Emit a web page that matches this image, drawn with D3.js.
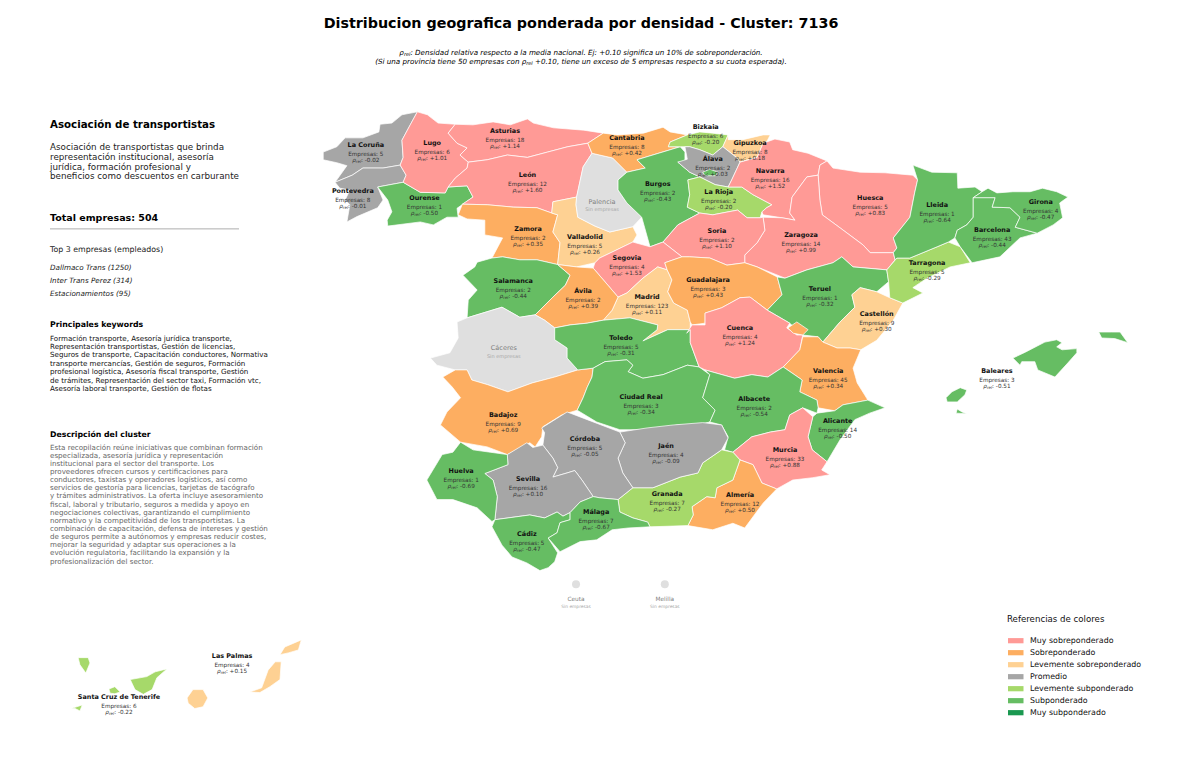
<!DOCTYPE html>
<html>
<head>
<meta charset="utf-8">
<script src="https://cdn.jsdelivr.net/npm/d3@7"></script>
<style>
 body { margin: 0; background: #fff; }
 text { font-family: "DejaVu Sans", sans-serif; }
</style>
</head>
<body>
<div id="map"></div>
<script>
var provinces = ['La Coruña','Lugo','Asturias','Cantabria','Bizkaia','Gipuzkoa','Álava','Navarra','La Rioja','Burgos','León','Pontevedra','Ourense','Zamora','Valladolid','Palencia','Soria','Huesca','Lleida','Girona','Barcelona','Tarragona','Zaragoza','Segovia','Salamanca','Ávila','Madrid','Guadalajara','Teruel','Castellón','Cáceres','Toledo','Cuenca','Valencia','Baleares','Badajoz','Ciudad Real','Albacete','Alicante','Córdoba','Jaén','Murcia','Huelva','Sevilla','Granada','Almería','Málaga','Cádiz','Las Palmas','Santa Cruz de Tenerife','Ceuta','Melilla'];
var empresas = [5,6,18,8,6,8,2,16,2,2,12,8,1,2,5,0,2,5,1,4,43,5,14,4,2,2,123,3,1,9,0,5,4,45,3,9,3,2,14,5,4,33,1,16,7,12,7,5,4,6,0,0];
var rho = [-0.02,1.01,1.14,0.42,-0.20,0.18,0.03,1.52,-0.20,-0.43,1.60,-0.01,-0.50,0.35,0.26,null,1.10,0.83,-0.64,-0.47,-0.44,-0.29,0.99,1.53,-0.44,0.39,0.11,0.43,-0.32,0.30,null,-0.31,1.24,0.34,-0.51,0.69,-0.34,-0.54,-0.50,-0.05,-0.09,0.88,-0.69,0.10,-0.27,0.50,-0.67,-0.47,0.15,-0.22,null,null];

// where each label sits, lon/lat
var labelLonLat = [[-8.56,43.21],[-7.44,43.24],[-6.21,43.45],[-4.15,43.33],[-2.82,43.51],[-2.07,43.24],[-2.70,42.97],[-1.73,42.77],[-2.60,42.42],[-3.63,42.55],[-5.83,42.70],[-8.78,42.43],[-7.57,42.32],[-5.82,41.79],[-4.86,41.66],[-4.57,42.25],[-2.63,41.76],[-0.04,42.32],[1.09,42.20],[2.84,42.25],[2.02,41.78],[0.92,41.22],[-1.21,41.69],[-4.15,41.30],[-6.07,40.91],[-4.89,40.74],[-3.81,40.64],[-2.78,40.93],[-0.89,40.78],[0.07,40.36],[-6.23,39.78],[-4.25,39.95],[-2.24,40.12],[-0.75,39.39],[2.10,39.39],[-6.24,38.65],[-3.91,38.96],[-2.0,38.92],[-0.59,38.55],[-4.86,38.25],[-3.49,38.13],[-1.48,38.06],[-6.95,37.70],[-5.82,37.57],[-3.47,37.32],[-2.24,37.30],[-4.67,37.01],[-5.84,36.64],[-10.82,34.58],[-12.73,33.89],[-5.01,35.54],[-3.51,35.54]];

// rough outlines, lon/lat. Canarias are moved next to the peninsula like in the source map
var outlines = {
 'La Coruña': [[[-7.69,43.77],[-7.95,43.72],[-8.12,43.58],[-8.32,43.56],[-8.34,43.43],[-8.61,43.33],[-8.91,43.33],[-9.05,43.18],[-9.28,43.09],[-9.28,42.96],[-9.05,42.91],[-8.88,42.86],[-9.08,42.58],[-8.79,42.70],[-8.61,42.82],[-8.27,42.82],[-7.98,42.87],[-7.93,43.00],[-7.95,43.29],[-7.81,43.55]]],
 'Pontevedra': [[[-7.98,42.87],[-8.27,42.82],[-8.61,42.82],[-8.79,42.70],[-9.08,42.58],[-9.0,42.48],[-8.83,42.45],[-8.91,42.28],[-8.83,42.20],[-8.88,41.91],[-8.71,42.0],[-8.36,42.15],[-8.27,42.28],[-8.36,42.50],[-7.93,42.58],[-7.88,42.70]]],
 'Ourense': [[[-8.36,42.50],[-7.93,42.58],[-7.64,42.41],[-7.22,42.40],[-7.17,42.50],[-6.85,42.52],[-6.75,42.33],[-7.02,42.14],[-7.0,41.99],[-7.19,41.99],[-7.42,41.86],[-7.64,41.91],[-8.19,41.84],[-8.2,41.94],[-8.12,42.08],[-8.19,42.28]]],
 'Lugo': [[[-7.69,43.77],[-7.81,43.55],[-7.95,43.29],[-7.93,43.0],[-7.98,42.87],[-7.88,42.70],[-7.93,42.58],[-7.64,42.41],[-7.22,42.40],[-7.17,42.50],[-7.05,42.65],[-6.85,42.82],[-6.83,42.92],[-6.97,43.04],[-6.85,43.16],[-7.02,43.24],[-7.17,43.41],[-7.05,43.56],[-7.34,43.58],[-7.52,43.72]]],
 'Asturias': [[[-7.05,43.56],[-7.17,43.41],[-7.02,43.24],[-6.85,43.16],[-6.97,43.04],[-6.83,42.92],[-6.51,42.96],[-6.17,43.04],[-5.83,43.0],[-5.49,43.09],[-5.15,43.18],[-4.81,43.24],[-4.55,43.41],[-4.88,43.46],[-5.39,43.50],[-5.73,43.58],[-5.83,43.65],[-6.12,43.55],[-6.41,43.60],[-6.75,43.55]]],
 'León': [[[-6.83,42.92],[-6.85,42.82],[-7.05,42.65],[-7.17,42.50],[-6.85,42.52],[-6.75,42.33],[-6.93,42.21],[-6.51,42.20],[-6.07,42.16],[-5.67,42.15],[-5.42,42.06],[-5.40,42.25],[-5.0,42.33],[-4.89,42.84],[-4.74,43.07],[-4.81,43.24],[-5.15,43.18],[-5.49,43.09],[-5.83,43.0],[-6.17,43.04],[-6.51,42.96]]],
 'Zamora': [[[-6.93,42.21],[-7.0,42.03],[-6.85,41.96],[-6.55,41.94],[-6.55,41.69],[-6.25,41.64],[-6.43,41.30],[-6.25,41.32],[-5.96,41.27],[-5.67,41.27],[-5.32,41.19],[-5.28,41.56],[-5.40,41.74],[-5.32,42.03],[-5.42,42.06],[-5.67,42.15],[-6.07,42.16],[-6.51,42.20]]],
 'Valladolid': [[[-5.40,42.25],[-5.42,42.06],[-5.32,42.03],[-5.40,41.74],[-5.28,41.56],[-5.32,41.19],[-5.0,41.15],[-4.69,41.22],[-4.61,41.30],[-4.05,41.57],[-3.98,41.69],[-4.05,41.83],[-4.44,41.74],[-4.69,41.84],[-4.98,41.99],[-5.01,42.20],[-5.0,42.33]]],
 'Palencia': [[[-4.74,43.07],[-4.61,43.04],[-4.39,42.99],[-4.15,42.75],[-4.30,42.62],[-4.30,42.45],[-4.15,42.23],[-3.90,41.99],[-4.05,41.83],[-4.44,41.74],[-4.69,41.84],[-4.98,41.99],[-5.01,42.20],[-5.0,42.33],[-4.89,42.84]]],
 'Cantabria': [[[-4.81,43.24],[-4.55,43.41],[-4.31,43.38],[-3.87,43.41],[-3.54,43.51],[-3.42,43.43],[-3.13,43.38],[-3.42,43.26],[-3.45,43.18],[-3.25,43.18],[-3.98,42.96],[-3.84,42.82],[-4.15,42.75],[-4.39,42.99],[-4.61,43.04],[-4.74,43.07]]],
 'Burgos': [[[-3.25,43.18],[-3.17,43.09],[-3.17,42.92],[-3.29,42.92],[-3.09,42.75],[-2.92,42.67],[-3.12,42.62],[-3.09,42.37],[-3.13,42.16],[-2.92,42.06],[-3.29,41.86],[-3.54,41.57],[-3.76,41.49],[-3.90,41.99],[-4.15,42.23],[-4.30,42.45],[-4.30,42.62],[-4.15,42.75],[-3.84,42.82],[-3.98,42.96]]],
 'Bizkaia': [[[-3.45,43.18],[-3.42,43.26],[-3.13,43.38],[-2.92,43.43],[-2.70,43.41],[-2.44,43.38],[-2.53,43.18],[-2.70,43.04],[-2.92,43.13],[-3.09,43.18],[-3.25,43.18]]],
 'Gipuzkoa': [[[-2.44,43.38],[-2.44,43.30],[-2.19,43.30],[-1.85,43.38],[-1.73,43.38],[-1.79,43.26],[-1.85,43.24],[-1.95,43.0],[-2.24,42.92],[-2.29,42.99],[-2.53,43.18]]],
 'Álava': [[[-3.17,43.18],[-3.09,43.18],[-2.92,43.13],[-2.70,43.04],[-2.53,43.18],[-2.29,42.99],[-2.24,42.92],[-2.38,42.62],[-2.44,42.50],[-2.66,42.54],[-2.92,42.67],[-3.09,42.75],[-3.29,42.92],[-3.13,42.97]]],
 'La Rioja': [[[-3.12,42.62],[-2.92,42.67],[-2.66,42.54],[-2.44,42.50],[-2.21,42.50],[-2.02,42.37],[-1.70,42.20],[-1.79,42.15],[-1.87,42.08],[-1.90,41.98],[-2.12,41.98],[-2.28,42.11],[-2.44,42.08],[-2.70,42.03],[-2.92,42.06],[-3.13,42.16],[-3.09,42.37]]],
 'Navarra': [[[-2.38,42.62],[-2.24,42.92],[-1.95,43.0],[-1.85,43.24],[-1.65,43.31],[-1.40,43.26],[-1.35,43.13],[-1.09,43.07],[-0.77,42.94],[-0.89,42.87],[-0.92,42.70],[-1.11,42.67],[-1.36,42.33],[-1.40,42.06],[-1.31,41.94],[-1.53,41.98],[-1.85,42.03],[-1.87,42.08],[-1.79,42.15],[-1.70,42.20],[-2.02,42.37],[-2.21,42.50],[-2.44,42.50]]],
 'Huesca': [[[-0.77,42.94],[-0.89,42.87],[-0.92,42.70],[-0.89,42.28],[-0.85,42.03],[-0.55,41.81],[-0.16,41.52],[-0.04,41.39],[0.35,41.39],[0.41,41.47],[0.35,41.64],[0.63,41.99],[0.71,42.40],[0.76,42.62],[0.68,42.70],[0.21,42.74],[-0.21,42.75],[-0.67,42.82]]],
 'Zaragoza': [[[-0.92,42.70],[-1.11,42.67],[-1.36,42.33],[-1.40,42.06],[-1.31,41.94],[-1.53,41.98],[-1.85,41.99],[-1.82,41.77],[-1.95,41.56],[-2.16,41.35],[-2.16,41.22],[-1.95,41.15],[-1.48,40.96],[-1.11,41.10],[-0.67,41.22],[-0.52,41.32],[-0.33,41.15],[0.24,41.10],[0.38,41.27],[0.35,41.39],[-0.04,41.39],[-0.16,41.52],[-0.55,41.81],[-0.85,42.03],[-0.89,42.28]]],
 'Soria': [[[-3.29,41.86],[-2.92,42.06],[-2.70,42.03],[-2.44,42.08],[-2.28,42.11],[-2.12,41.98],[-1.90,41.98],[-1.85,41.99],[-1.82,41.77],[-1.95,41.56],[-2.16,41.35],[-2.16,41.22],[-2.46,41.18],[-2.75,41.30],[-3.09,41.32],[-3.22,41.32],[-3.54,41.57]]],
 'Segovia': [[[-4.69,41.22],[-4.61,41.30],[-4.05,41.57],[-3.76,41.49],[-3.54,41.57],[-3.22,41.32],[-3.51,41.22],[-3.47,41.10],[-3.63,41.15],[-3.88,40.96],[-4.15,40.71],[-4.30,40.64],[-4.47,40.84],[-4.72,41.13]]],
 'Madrid': [[[-3.63,41.15],[-3.47,41.10],[-3.39,40.93],[-3.46,40.73],[-3.36,40.54],[-3.13,40.42],[-3.08,40.22],[-3.08,40.09],[-3.46,40.09],[-3.88,39.90],[-3.64,40.09],[-3.63,40.17],[-4.10,40.29],[-4.55,40.25],[-4.40,40.42],[-4.30,40.64],[-4.15,40.71],[-3.88,40.96]]],
 'Guadalajara': [[[-3.51,41.22],[-3.22,41.32],[-3.09,41.32],[-2.75,41.30],[-2.46,41.18],[-2.16,41.22],[-1.95,41.15],[-1.61,40.98],[-1.53,40.68],[-1.78,40.42],[-2.07,40.64],[-2.24,40.63],[-2.55,40.46],[-2.83,40.37],[-2.83,40.20],[-3.05,40.17],[-3.08,40.22],[-3.13,40.42],[-3.36,40.54],[-3.46,40.73],[-3.39,40.93],[-3.47,41.10]]],
 'Teruel': [[[-1.78,40.42],[-1.53,40.68],[-1.61,40.98],[-1.48,40.96],[-1.11,41.10],[-0.67,41.22],[-0.52,41.32],[-0.33,41.15],[0.24,41.10],[0.27,40.90],[0.07,40.73],[-0.21,40.80],[-0.35,40.68],[-0.30,40.47],[-0.55,40.22],[-0.84,39.88],[-0.92,39.97],[-1.18,40.0],[-1.40,40.20]]],
 'Castellón': [[[-0.21,40.80],[0.07,40.73],[0.29,40.63],[0.51,40.54],[0.35,40.25],[0.07,39.91],[-0.20,39.75],[-0.38,39.78],[-0.60,39.78],[-0.84,39.88],[-0.55,40.22],[-0.30,40.47],[-0.35,40.68]]],
 'Tarragona': [[[0.24,41.10],[0.41,41.30],[0.63,41.30],[1.09,41.49],[1.28,41.57],[1.48,41.49],[1.65,41.22],[1.31,41.15],[0.92,40.96],[0.68,40.80],[0.85,40.71],[0.51,40.54],[0.29,40.63],[0.27,40.90]]],
 'Lleida': [[[0.68,42.87],[1.0,42.75],[1.43,42.74],[1.44,42.48],[1.73,42.50],[1.85,42.42],[1.70,42.32],[1.70,41.99],[1.59,41.86],[1.43,41.77],[1.39,41.64],[1.28,41.57],[1.09,41.49],[0.63,41.30],[0.41,41.30],[0.38,41.27],[0.35,41.39],[0.41,41.47],[0.35,41.64],[0.63,41.99],[0.71,42.40],[0.76,42.62]]],
 'Barcelona': [[[1.70,42.32],[2.07,42.32],[2.02,42.16],[2.32,42.15],[2.49,41.99],[2.41,41.82],[2.78,41.72],[2.49,41.64],[2.15,41.32],[1.68,41.22],[1.48,41.49],[1.39,41.64],[1.43,41.77],[1.59,41.86],[1.70,41.99]]],
 'Girona': [[[1.85,42.42],[1.95,42.48],[2.10,42.40],[2.37,42.42],[2.66,42.42],[2.87,42.48],[3.11,42.42],[3.30,42.33],[3.16,42.23],[3.21,41.98],[3.05,41.86],[2.78,41.72],[2.41,41.82],[2.49,41.99],[2.32,42.15],[2.02,42.16],[2.07,42.32],[1.70,42.32]]],
 'Salamanca': [[[-6.92,41.01],[-6.72,41.15],[-6.68,41.23],[-6.43,41.30],[-6.25,41.32],[-5.96,41.27],[-5.67,41.27],[-5.32,41.19],[-5.11,41.01],[-5.19,40.84],[-5.40,40.64],[-5.70,40.34],[-5.96,40.30],[-6.26,40.47],[-6.85,40.29],[-6.83,40.59],[-6.68,40.76]]],
 'Ávila': [[[-5.32,41.19],[-5.0,41.15],[-4.72,41.13],[-4.47,40.84],[-4.30,40.64],[-4.40,40.42],[-4.55,40.25],[-4.82,40.20],[-5.11,40.17],[-5.37,40.12],[-5.54,40.25],[-5.70,40.34],[-5.40,40.64],[-5.19,40.84],[-5.11,41.01]]],
 'Cáceres': [[[-7.47,39.61],[-7.14,39.70],[-7.0,39.95],[-7.02,40.22],[-6.85,40.29],[-6.26,40.47],[-5.96,40.30],[-5.70,40.34],[-5.54,40.25],[-5.37,40.12],[-5.37,39.92],[-5.16,39.78],[-5.16,39.61],[-4.98,39.41],[-5.37,39.29],[-5.75,39.19],[-6.16,39.04],[-6.50,39.16],[-6.77,39.24],[-6.85,39.41],[-7.05,39.41],[-7.36,39.49]]],
 'Badajoz': [[[-7.26,39.29],[-7.05,39.41],[-6.85,39.41],[-6.77,39.24],[-6.50,39.16],[-6.16,39.04],[-5.75,39.19],[-5.37,39.29],[-4.98,39.41],[-4.72,39.44],[-4.74,39.29],[-4.82,39.12],[-4.89,38.94],[-4.99,38.73],[-5.25,38.65],[-5.57,38.45],[-5.59,38.28],[-5.70,38.11],[-5.79,38.18],[-6.17,37.98],[-6.51,38.11],[-6.96,38.19],[-7.30,38.48],[-7.19,38.70],[-6.96,38.94],[-7.10,39.12]]],
 'Toledo': [[[-5.37,40.12],[-5.11,40.17],[-4.82,40.20],[-4.55,40.25],[-4.10,40.29],[-3.63,40.17],[-3.64,40.09],[-3.88,39.90],[-3.46,40.09],[-3.08,40.09],[-3.08,39.87],[-2.93,39.46],[-3.13,39.49],[-3.54,39.33],[-3.88,39.27],[-4.13,39.38],[-4.05,39.49],[-4.15,39.58],[-4.52,39.55],[-4.72,39.44],[-4.98,39.41],[-5.16,39.61],[-5.16,39.78],[-5.37,39.92]]],
 'Ciudad Real': [[[-4.72,39.44],[-4.52,39.55],[-4.15,39.58],[-4.05,39.49],[-4.13,39.38],[-3.88,39.27],[-3.54,39.33],[-3.13,39.49],[-2.93,39.46],[-2.75,39.33],[-2.83,39.07],[-2.87,38.94],[-2.66,38.73],[-2.75,38.53],[-2.97,38.48],[-3.30,38.48],[-3.64,38.40],[-4.27,38.40],[-4.66,38.53],[-4.99,38.73],[-4.89,38.94],[-4.82,39.12],[-4.74,39.29]]],
 'Cuenca': [[[-3.14,40.03],[-3.05,40.17],[-2.83,40.17],[-2.83,40.37],[-2.55,40.46],[-2.24,40.63],[-2.07,40.64],[-1.78,40.42],[-1.40,40.20],[-1.45,40.12],[-1.28,40.0],[-1.18,40.0],[-1.23,39.75],[-1.51,39.46],[-1.77,39.29],[-2.04,39.33],[-2.33,39.27],[-2.83,39.41],[-2.93,39.46],[-3.08,39.87],[-3.08,40.09]]],
 'Valencia': [[[-1.18,39.97],[-0.92,39.97],[-0.84,39.88],[-0.60,39.78],[-0.38,39.78],[-0.20,39.75],[-0.33,39.44],[-0.26,39.19],[-0.08,38.90],[-0.50,38.82],[-0.64,38.72],[-0.92,38.77],[-0.94,38.90],[-1.23,39.04],[-1.19,39.24],[-1.51,39.46],[-1.23,39.75]],[[-1.43,40.12],[-1.28,40.22],[-1.09,40.09],[-1.18,40.0],[-1.34,40.03]]],
 'Albacete': [[[-2.83,39.41],[-2.33,39.27],[-2.04,39.33],[-1.77,39.29],[-1.51,39.46],[-1.19,39.24],[-1.23,39.04],[-0.94,38.90],[-0.92,38.77],[-0.94,38.68],[-1.18,38.77],[-1.40,38.65],[-1.48,38.40],[-1.73,38.36],[-2.04,38.28],[-2.36,38.02],[-2.50,38.06],[-2.44,38.28],[-2.55,38.48],[-2.75,38.53],[-2.66,38.73],[-2.87,38.94],[-2.83,39.07],[-2.75,39.33]]],
 'Alicante': [[[-0.94,38.68],[-0.64,38.72],[-0.50,38.82],[-0.08,38.90],[0.21,38.77],[-0.05,38.68],[-0.30,38.57],[-0.55,38.23],[-0.77,37.86],[-1.02,38.06],[-1.09,38.28],[-1.01,38.62]]],
 'Murcia': [[[-1.48,38.40],[-1.40,38.65],[-1.18,38.77],[-1.01,38.62],[-1.09,38.28],[-1.02,38.06],[-0.77,37.86],[-0.86,37.72],[-0.72,37.64],[-1.01,37.59],[-1.35,37.55],[-1.62,37.40],[-1.87,37.50],[-2.02,37.81],[-2.24,37.89],[-2.36,38.02],[-2.04,38.28],[-1.73,38.36]]],
 'Almería': [[[-2.24,37.89],[-2.02,37.81],[-1.87,37.50],[-1.62,37.40],[-1.85,37.16],[-2.16,36.74],[-2.36,36.82],[-2.70,36.71],[-3.12,36.78],[-3.03,36.96],[-3.05,37.10],[-2.80,37.27],[-2.66,37.25],[-2.63,37.42],[-2.36,37.55]]],
 'Granada': [[[-4.30,37.22],[-4.05,37.42],[-3.71,37.42],[-3.25,37.60],[-2.95,37.67],[-2.87,37.84],[-2.55,38.06],[-2.36,38.02],[-2.24,37.89],[-2.36,37.55],[-2.63,37.42],[-2.66,37.25],[-2.80,37.27],[-3.05,37.10],[-3.03,36.96],[-3.12,36.78],[-3.76,36.76],[-3.80,36.84],[-4.05,36.91],[-4.27,37.01]]],
 'Jaén': [[[-4.27,38.36],[-3.81,38.43],[-3.37,38.48],[-2.87,38.52],[-2.55,38.48],[-2.44,38.26],[-2.55,38.06],[-2.87,37.84],[-2.95,37.67],[-3.25,37.60],[-3.71,37.42],[-4.05,37.42],[-4.22,37.67],[-4.30,37.92],[-4.18,38.18]]],
 'Córdoba': [[[-5.59,38.43],[-5.16,38.70],[-4.82,38.57],[-4.27,38.36],[-4.18,38.18],[-4.30,37.92],[-4.22,37.67],[-4.05,37.42],[-4.30,37.22],[-4.61,37.25],[-4.72,37.27],[-4.91,37.55],[-5.03,37.71],[-5.16,37.67],[-5.40,37.60],[-5.32,37.76],[-5.40,37.92],[-5.57,38.14],[-5.54,38.35]]],
 'Sevilla': [[[-6.55,37.66],[-6.16,37.81],[-6.17,37.98],[-5.84,38.18],[-5.74,38.10],[-5.57,38.14],[-5.40,37.92],[-5.32,37.76],[-5.40,37.60],[-5.16,37.67],[-5.03,37.71],[-4.91,37.55],[-4.72,37.27],[-4.94,37.18],[-5.11,37.0],[-5.23,36.94],[-5.33,37.01],[-5.54,36.91],[-5.79,36.96],[-6.38,36.88],[-6.34,37.27],[-6.41,37.55]]],
 'Huelva': [[[-6.96,38.19],[-6.75,38.06],[-6.46,38.02],[-6.17,37.98],[-6.16,37.81],[-6.55,37.66],[-6.41,37.55],[-6.34,37.27],[-6.38,36.88],[-6.43,36.85],[-6.68,37.08],[-7.09,37.22],[-7.36,37.22],[-7.53,37.55],[-7.27,37.98],[-7.09,38.02]]],
 'Cádiz': [[[-6.43,36.76],[-6.38,36.88],[-5.79,36.96],[-5.54,36.91],[-5.33,37.01],[-5.23,36.94],[-5.11,37.0],[-5.11,36.88],[-5.28,36.83],[-5.33,36.66],[-5.48,36.57],[-5.32,36.32],[-5.37,36.17],[-5.48,36.07],[-5.62,36.02],[-5.84,36.15],[-6.09,36.25],[-6.26,36.45]]],
 'Málaga': [[[-5.11,37.0],[-4.94,37.18],[-4.72,37.27],[-4.61,37.25],[-4.30,37.22],[-4.27,37.01],[-4.05,36.91],[-3.80,36.84],[-3.76,36.76],[-4.13,36.74],[-4.40,36.71],[-4.66,36.54],[-4.94,36.51],[-5.28,36.34],[-5.48,36.57],[-5.33,36.66],[-5.28,36.83],[-5.11,36.88]]],
 'Baleares': [[[2.37,39.61],[2.58,39.71],[2.91,39.88],[3.11,39.92],[3.20,39.87],[3.11,39.80],[3.20,39.75],[3.45,39.77],[3.45,39.70],[3.30,39.53],[3.08,39.29],[2.79,39.41],[2.74,39.55],[2.52,39.55],[2.49,39.49]],[[3.82,40.05],[4.04,40.05],[4.18,40.05],[4.31,39.87],[4.09,39.94],[3.87,39.95]],[[1.24,38.94],[1.34,39.04],[1.48,39.11],[1.59,39.07],[1.56,38.99],[1.43,38.87],[1.26,38.87]],[[1.41,38.68],[1.43,38.75],[1.51,38.70],[1.59,38.67]]],
 'Santa Cruz de Tenerife': [[[-12.54,34.18],[-12.26,34.23],[-12.12,34.31],[-11.92,34.36],[-12.09,34.21],[-12.17,34.01],[-12.32,33.93],[-12.46,34.01]],[[-12.90,34.02],[-12.80,34.06],[-12.71,33.97],[-12.80,33.94],[-12.88,33.95]],[[-13.42,34.55],[-13.25,34.55],[-13.22,34.46],[-13.29,34.29],[-13.39,34.43]],[[-13.54,33.69],[-13.35,33.75],[-13.39,33.65],[-13.47,33.69]]],
 'Las Palmas': [[[-11.58,33.87],[-11.48,34.01],[-11.31,34.01],[-11.23,33.87],[-11.31,33.72],[-11.45,33.69],[-11.56,33.78]],[[-10.52,33.97],[-10.32,34.04],[-10.21,34.34],[-10.09,34.48],[-9.99,34.48],[-10.01,34.18],[-10.18,34.06],[-10.35,33.96]],[[-10.01,34.60],[-9.93,34.73],[-9.72,34.82],[-9.65,34.85],[-9.70,34.68],[-9.87,34.63]]]
};
// Condado de Treviño sits inside Álava and belongs to Burgos
var trevino = [[-2.87,42.75],[-2.75,42.80],[-2.61,42.75],[-2.66,42.69],[-2.83,42.69]];
// Ceuta and Melilla only get a dot
var dotLonLat = { 'Ceuta': [-5.01,35.79], 'Melilla': [-3.51,35.79] };

var legendNames = ['Muy sobreponderado','Sobreponderado','Levemente sobreponderado','Promedio','Levemente subponderado','Subponderado','Muy subponderado'];
var legendColors = ['#ff9a96','#fdae61','#fed193','#a6a6a6','#a6d96a','#66bd63','#1a9850'];
var noDataColor = '#dfdfdf';

var sideDescription = ['Asociación de transportistas que brinda','representación institucional, asesoría','jurídica, formación profesional y','beneficios como descuentos en carburante'];
var topCompanies = ['Dallmaco Trans (1250)','Inter Trans Perez (314)','Estacionamientos (95)'];
var keywordLines = ['Formación transporte, Asesoría jurídica transporte,','Representación transportistas, Gestión de licencias,','Seguros de transporte, Capacitación conductores, Normativa','transporte mercancías, Gestión de seguros, Formación','profesional logística, Asesoría fiscal transporte, Gestión','de trámites, Representación del sector taxi, Formación vtc,','Asesoría laboral transporte, Gestión de flotas'];
var clusterLines = ['Esta recopilación reúne iniciativas que combinan formación','especializada, asesoría jurídica y representación','institucional para el sector del transporte. Los','proveedores ofrecen cursos y certificaciones para','conductores, taxistas y operadores logísticos, así como','servicios de gestoría para licencias, tarjetas de tacógrafo','y trámites administrativos. La oferta incluye asesoramiento','fiscal, laboral y tributario, seguros a medida y apoyo en','negociaciones colectivas, garantizando el cumplimiento','normativo y la competitividad de los transportistas. La','combinación de capacitación, defensa de intereses y gestión','de seguros permite a autónomos y empresas reducir costes,','mejorar la seguridad y adaptar sus operaciones a la','evolución regulatoria, facilitando la expansión y la','profesionalización del sector.'];

var width = 1200;
var height = 761;

var svg = d3.select('#map')
 .append('svg')
 .attr('width', width)
 .attr('height', height)
 .attr('viewBox', [0, 0, width, height]);

// plain lon/lat grid, same scale both ways like the source plot
var projection = d3.geoIdentity()
 .reflectY(true)
 .scale(59.2)
 .translate([872.6, 2703]);
var path = d3.geoPath(projection);

var color = d3.scaleThreshold()
 .domain([-0.7, -0.3, -0.1, 0.105, 0.305, 0.75])
 .range(legendColors.slice().reverse());

function closeRing(ring) {
  return ring.concat([ring[0]]);
}
function fillOf(name) {
  var v = rho[provinces.indexOf(name)];
  return v === null ? noDataColor : color(v);
}

var features = Object.keys(outlines).map(function (name) {
  return {
    type: 'Feature',
    properties: { name: name },
    geometry: { type: 'MultiPolygon', coordinates: outlines[name].map(function (r) { return [closeRing(r)]; }) }
  };
});
features.push({
  type: 'Feature',
  properties: { name: 'Burgos' },
  geometry: { type: 'Polygon', coordinates: [closeRing(trevino)] }
});

svg.append('g')
 .selectAll('path')
 .data(features)
 .join('path')
  .attr('d', path)
  .attr('fill', d => fillOf(d.properties.name))
  .attr('stroke', '#fff')
  .attr('stroke-width', 0.7)
  .attr('stroke-linejoin', 'round');

svg.append('g')
 .selectAll('circle')
 .data(Object.keys(dotLonLat))
 .join('circle')
  .attr('cx', d => projection(dotLonLat[d])[0])
  .attr('cy', d => projection(dotLonLat[d])[1])
  .attr('r', 4)
  .attr('fill', noDataColor);

// rho_rel written the way the source writes it: italic with small subscript
function addRho(sel, size) {
  sel.append('tspan').attr('font-style', 'italic').text('ρ');
  sel.append('tspan').attr('font-style', 'italic').attr('font-size', size * 0.7).attr('dy', size * 0.22).text('rel');
}

var labels = svg.append('g')
 .selectAll('g')
 .data(provinces)
 .join('g')
  .attr('transform', (d, i) => 'translate(' + projection(labelLonLat[i]) + ')')
  .attr('text-anchor', 'middle');

labels.each(function (name, i) {
  var g = d3.select(this);
  var small = name === 'Ceuta' || name === 'Melilla';
  if (rho[i] === null) {
    g.append('text').attr('dominant-baseline', 'central')
     .attr('font-size', small ? 5.8 : 6.5).attr('fill', '#808080').text(name);
    g.append('text').attr('y', small ? 7 : 7.5).attr('dominant-baseline', 'central')
     .attr('font-size', small ? 4.4 : 5).attr('fill', '#a8a8a8').text('Sin empresas');
    return;
  }
  g.append('text').attr('dominant-baseline', 'central')
   .attr('font-size', 6.45).attr('font-weight', 'bold').attr('fill', '#111').text(name);
  g.append('text').attr('y', 9).attr('dominant-baseline', 'central')
   .attr('font-size', 5.7).attr('fill', '#333').text('Empresas: ' + empresas[i]);
  var t = g.append('text').attr('y', 15).attr('dominant-baseline', 'central')
   .attr('font-size', 5.7).attr('fill', '#333');
  addRho(t, 5.7);
  t.append('tspan').attr('dy', -5.7 * 0.22).text(': ' + (rho[i] > 0 ? '+' : '') + rho[i].toFixed(2));
});

// title block
svg.append('text')
 .attr('x', 581).attr('y', 23)
 .attr('text-anchor', 'middle').attr('dominant-baseline', 'central')
 .attr('font-size', 14.3).attr('font-weight', 'bold').attr('fill', '#000')
 .text('Distribucion geografica ponderada por densidad - Cluster: 7136');

var sub1 = svg.append('text').attr('x', 581).attr('y', 52)
 .attr('text-anchor', 'middle').attr('dominant-baseline', 'central')
 .attr('font-size', 7.15).attr('font-style', 'italic');
addRho(sub1, 7.15);
sub1.append('tspan').attr('dy', -7.15 * 0.22).text(': Densidad relativa respecto a la media nacional. Ej: +0.10 significa un 10% de sobreponderación.');

var sub2 = svg.append('text').attr('x', 581).attr('y', 61)
 .attr('text-anchor', 'middle').attr('dominant-baseline', 'central')
 .attr('font-size', 7.15).attr('font-style', 'italic');
sub2.append('tspan').text('(Si una provincia tiene 50 empresas con ');
addRho(sub2, 7.15);
sub2.append('tspan').attr('dy', -7.15 * 0.22).text(' +0.10, tiene un exceso de 5 empresas respecto a su cuota esperada).');

// left panel
var panel = svg.append('g');

function panelLine(text, y, size, opts) {
  opts = opts || {};
  panel.append('text')
   .attr('x', 50).attr('y', y)
   .attr('dominant-baseline', 'central')
   .attr('font-size', size)
   .attr('font-weight', opts.bold ? 'bold' : 'normal')
   .attr('font-style', opts.italic ? 'italic' : 'normal')
   .attr('fill', opts.fill || '#000')
   .text(text);
}

panelLine('Asociación de transportistas', 124, 10.25, { bold: true });
sideDescription.forEach((s, i) => panelLine(s, 147 + i * 9.8, 8.75, { fill: '#222' }));
panelLine('Total empresas: 504', 217, 9.5, { bold: true });
panel.append('rect').attr('x', 50).attr('y', 228).attr('width', 189).attr('height', 1.6).attr('fill', '#ccc');
panelLine('Top 3 empresas (empleados)', 249, 7.85, { fill: '#222' });
topCompanies.forEach((s, i) => panelLine(s, 267.5 + i * 13.2, 7.2, { italic: true, fill: '#222' }));
panelLine('Principales keywords', 324, 7.8, { bold: true });
keywordLines.forEach((s, i) => panelLine(s, 338 + i * 8.45, 7.13, { fill: '#111' }));
panelLine('Descripción del cluster', 434, 7.8, { bold: true });
clusterLines.forEach((s, i) => panelLine(s, 447 + i * 8.15, 7.13, { fill: '#666' }));

// legend
var legend = svg.append('g');
legend.append('text')
 .attr('x', 1007).attr('y', 619).attr('dominant-baseline', 'central')
 .attr('font-size', 8.65).attr('fill', '#111')
 .text('Referencias de colores');

var legendY = d3.scalePoint().domain(legendNames).range([640.7, 712.7]);

legend.selectAll('rect')
 .data(legendNames)
 .join('rect')
  .attr('x', 1008)
  .attr('y', d => legendY(d) - 2.6)
  .attr('width', 15.5)
  .attr('height', 5.2)
  .attr('fill', (d, i) => legendColors[i]);

legend.selectAll('text.item')
 .data(legendNames)
 .join('text')
  .attr('class', 'item')
  .attr('x', 1030)
  .attr('y', d => legendY(d))
  .attr('dominant-baseline', 'central')
  .attr('font-size', 7.9)
  .attr('fill', '#111')
  .text(d => d);
</script>
</body>
</html>
